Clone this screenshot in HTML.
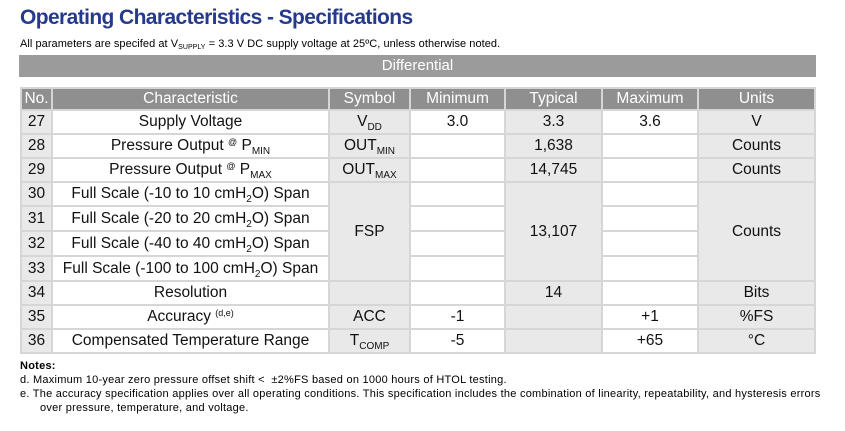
<!DOCTYPE html>
<html><head><meta charset="utf-8"><style>
body{margin:0;width:845px;height:431px;background:#fff;position:relative;font-family:"Liberation Sans",sans-serif;overflow:hidden}
.a{position:absolute}
.t{left:20px;top:6px;font-size:21px;font-weight:bold;color:#263a8c;letter-spacing:-0.6px;white-space:nowrap}
.s{left:20px;top:38px;font-size:11px;color:#000;white-space:nowrap;letter-spacing:0.05px}
.bar{left:19px;top:55px;width:797px;height:22px;background:#9b9b9b;color:#fff;font-size:15px;line-height:22px;text-align:center}
.tab{left:20px;top:87px;width:796px;height:267px;background:#d6d6d6}
.c{position:absolute;box-sizing:border-box;text-align:center;font-size:15.5px;color:#111;white-space:nowrap;display:flex;align-items:center;justify-content:center}
.h{background:#8f8f8f;color:#fff}
.g{background:#e9e9e9}
.w{background:#fff}
sub{font-size:10px;vertical-align:-4px;line-height:0}
sup{font-size:9px;vertical-align:5px;line-height:0}
.n{font-size:11px;left:20px;white-space:nowrap;color:#000;letter-spacing:0.25px}
</style></head><body>
<div class="a t">Operating Characteristics - Specifications</div>
<div class="a s">All parameters are specifed at V<sub style="font-size:7px;vertical-align:-2px">SUPPLY</sub> = 3.3 V DC supply voltage at 25ºC, unless otherwise noted.</div>
<div class="a bar">Differential</div>
<div class="a tab"></div>
<div id="cells"></div>
<div class="a n" style="top:360px;font-weight:bold">Notes:</div>
<div class="a n" style="top:374px">d. Maximum 10-year zero pressure offset shift &lt;&nbsp; ±2%FS based on 1000 hours of HTOL testing.</div>
<div class="a n" style="top:388px">e. The accuracy specification applies over all operating conditions. This specification includes the combination of linearity, repeatability, and hysteresis errors</div>
<div class="a n" style="top:402px;left:40px">over pressure, temperature, and voltage.</div>
<script>
var xs=[21,52,329,410,505,602,698,815];
var ys=[88,110,134,158,182,206,231,256,281,305,329,353];
var cls=['g','w','g','w','g','w','g'];
var M='M';
var rows=[
['No.','Characteristic','Symbol','Minimum','Typical','Maximum','Units'],
['27','Supply Voltage','V<sub>DD</sub>','3.0','3.3','3.6','V'],
['28','Pressure Output <sup>@</sup> P<sub>MIN</sub>','OUT<sub>MIN</sub>','','1,638','','Counts'],
['29','Pressure Output <sup>@</sup> P<sub>MAX</sub>','OUT<sub>MAX</sub>','','14,745','','Counts'],
['30','Full Scale (-10 to 10 cmH<sub>2</sub>O) Span','FSP','','13,107','','Counts'],
['31','Full Scale (-20 to 20 cmH<sub>2</sub>O) Span',M,'',M,'',M],
['32','Full Scale (-40 to 40 cmH<sub>2</sub>O) Span',M,'',M,'',M],
['33','Full Scale (-100 to 100 cmH<sub>2</sub>O) Span',M,'',M,'',M],
['34','Resolution','','','14','','Bits'],
['35','Accuracy <sup>(d,e)</sup>','ACC','-1','','+1','%FS'],
['36','Compensated Temperature Range','T<sub>COMP</sub>','-5','','+65','°C']];
var h='';
function cell(c,r,r2,txt,k){h+='<div class="c '+k+'" style="left:'+(xs[c]+1)+'px;top:'+(ys[r]+1)+'px;width:'+(xs[c+1]-xs[c]-2)+'px;height:'+(ys[r2]-ys[r]-2)+'px"><span>'+txt+'</span></div>';}
for(var r=0;r<rows.length;r++)for(var c=0;c<7;c++){var v=rows[r][c];if(v===M)continue;
 var r2=r+1;if(r==4&&(c==2||c==4||c==6))r2=8;
 cell(c,r,r2,v,r==0?'h':cls[c]);}
document.getElementById('cells').innerHTML=h;
</script>
</body></html>
